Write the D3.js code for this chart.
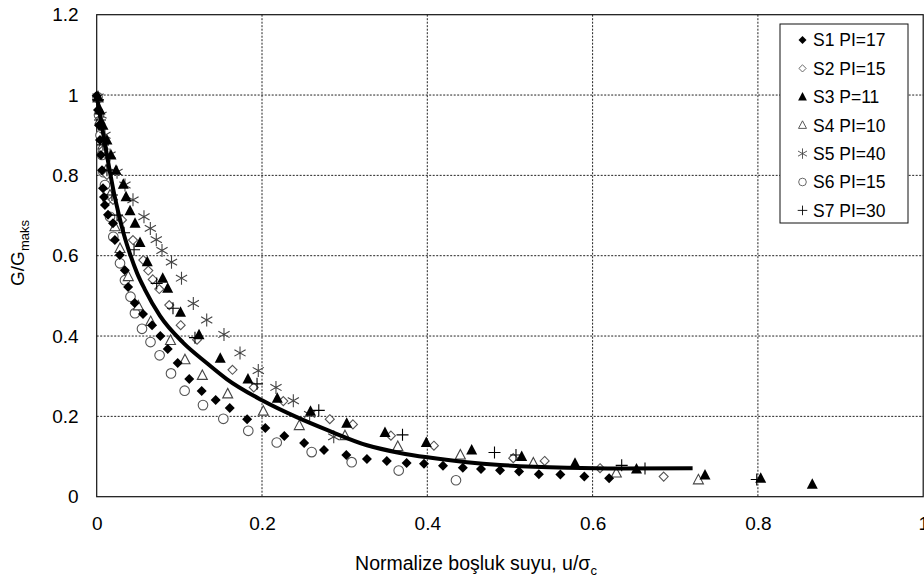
<!DOCTYPE html>
<html><head><meta charset="utf-8">
<script src="https://cdn.jsdelivr.net/npm/d3@7"></script>
<style>body{margin:0;background:#fff}svg{display:block;font-family:"Liberation Sans",Arial,sans-serif}</style>
</head><body><svg id="c" width="924" height="579"></svg>
<script>
const seriesNames = ["S1 PI=17","S2 PI=15","S3 P=11","S4 PI=10","S5 PI=40","S6 PI=15","S7 PI=30"];
const xTicks = [0,0.2,0.4,0.6,0.8,1];
const yTicks = [0,0.2,0.4,0.6,0.8,1,1.2];
const s1 = [[0,0.998],[0.0016,0.963],[0.0028,0.925],[0.004,0.888],[0.0052,0.851],[0.0064,0.813],[0.0076,0.768],[0.0088,0.746],[0.010,0.726],[0.0137,0.702],[0.0197,0.681],[0.022,0.639],[0.028,0.602],[0.034,0.564],[0.038,0.522],[0.046,0.482],[0.056,0.455],[0.067,0.427],[0.077,0.400],[0.086,0.368],[0.098,0.333],[0.112,0.293],[0.127,0.263],[0.144,0.241],[0.161,0.221],[0.182,0.193],[0.204,0.171],[0.227,0.151],[0.251,0.134],[0.275,0.116],[0.302,0.104],[0.327,0.094],[0.351,0.089],[0.375,0.084],[0.396,0.082],[0.419,0.077],[0.443,0.072],[0.465,0.069],[0.488,0.066],[0.511,0.063],[0.535,0.056],[0.561,0.055],[0.590,0.050],[0.620,0.046]];
const s2 = [[0.0016,0.988],[0.004,0.925],[0.0076,0.863],[0.0124,0.801],[0.0197,0.739],[0.0306,0.689],[0.0439,0.639],[0.0564,0.589],[0.0624,0.563],[0.0678,0.541],[0.0757,0.517],[0.0878,0.477],[0.1016,0.427],[0.1214,0.391],[0.1643,0.316],[0.190,0.272],[0.2258,0.238],[0.282,0.193],[0.310,0.180],[0.356,0.152],[0.408,0.127],[0.504,0.096],[0.542,0.089],[0.609,0.071],[0.686,0.050]];
const s3 = [[0.0016,0.995],[0.004,0.963],[0.0076,0.925],[0.0124,0.888],[0.0173,0.851],[0.0234,0.813],[0.0322,0.778],[0.0355,0.747],[0.0403,0.712],[0.0464,0.681],[0.0524,0.633],[0.0612,0.585],[0.0799,0.544],[0.0859,0.519],[0.1014,0.459],[0.1238,0.403],[0.1495,0.345],[0.183,0.293],[0.2185,0.245],[0.2587,0.213],[0.3025,0.183],[0.3488,0.160],[0.3988,0.135],[0.4537,0.116],[0.5142,0.100],[0.5787,0.083],[0.6531,0.069],[0.736,0.054],[0.8034,0.046],[0.8658,0.031]];
const s4 = [[0.0016,0.993],[0.004,0.938],[0.0076,0.876],[0.0113,0.813],[0.0161,0.751],[0.0221,0.672],[0.0282,0.618],[0.0382,0.548],[0.0503,0.475],[0.0653,0.436],[0.0893,0.389],[0.1068,0.341],[0.1278,0.302],[0.1585,0.256],[0.2016,0.213],[0.2451,0.177],[0.3004,0.152],[0.3643,0.125],[0.440,0.104],[0.5283,0.084],[0.6287,0.059],[0.728,0.042]];
const s5 = [[0.0016,0.995],[0.0052,0.950],[0.010,0.900],[0.0161,0.851],[0.0246,0.808],[0.0342,0.776],[0.0439,0.739],[0.0572,0.697],[0.0649,0.668],[0.0721,0.640],[0.079,0.613],[0.0905,0.584],[0.1026,0.544],[0.1169,0.481],[0.1331,0.440],[0.154,0.404],[0.1734,0.358],[0.1955,0.314],[0.2169,0.272],[0.2379,0.239],[0.2576,0.205],[0.2868,0.149]];
const s6 = [[0.001,0.995],[0.0028,0.950],[0.0046,0.900],[0.0064,0.851],[0.0082,0.808],[0.010,0.776],[0.0125,0.741],[0.0161,0.697],[0.0201,0.647],[0.0282,0.581],[0.0342,0.539],[0.0409,0.498],[0.0463,0.457],[0.0548,0.418],[0.0651,0.385],[0.0761,0.352],[0.0899,0.307],[0.1064,0.264],[0.1286,0.228],[0.1532,0.194],[0.1834,0.164],[0.2178,0.135],[0.2601,0.111],[0.3085,0.086],[0.3654,0.065],[0.4347,0.041]];
const s7 = [[0.0016,0.988],[0.004,0.938],[0.0076,0.876],[0.0124,0.813],[0.0185,0.751],[0.0246,0.701],[0.0331,0.657],[0.0452,0.615],[0.0726,0.531],[0.0923,0.469],[0.1189,0.396],[0.194,0.281],[0.2687,0.215],[0.370,0.154],[0.4813,0.110],[0.5073,0.104],[0.6352,0.078],[0.6634,0.070],[0.7986,0.043]];
const fitCurve = [[0,1],[0.004,0.95],[0.009,0.89],[0.015,0.82],[0.021,0.755],[0.027,0.70],[0.033,0.652],[0.041,0.60],[0.049,0.556],[0.058,0.517],[0.0766,0.45],[0.1048,0.383],[0.1331,0.333],[0.1573,0.293],[0.2,0.24],[0.242,0.198],[0.28,0.165],[0.327,0.128],[0.367,0.109],[0.4,0.098],[0.448,0.086],[0.488,0.079],[0.569,0.072],[0.633,0.07],[0.721,0.071]];

const allSeries = [s1,s2,s3,s4,s5,s6,s7];
const svg = d3.select("#c");
const L=96.7, R=923.2, T=14.7, B=496.7;
const x = d3.scaleLinear().domain([0,1]).range([L,R]);
const y = d3.scaleLinear().domain([0,1.2]).range([B,T]);

// gridlines
const g = svg.append("g");
g.selectAll(".gx").data(xTicks.filter(d=>d>0&&d<1)).join("line")
  .attr("x1",d=>x(d)).attr("x2",d=>x(d)).attr("y1",T).attr("y2",B)
  .attr("stroke","#222").attr("stroke-width",1).attr("stroke-dasharray","2,1.5");
g.selectAll(".gy").data(yTicks.filter(d=>d>0&&d<1.2)).join("line")
  .attr("y1",d=>y(d)).attr("y2",d=>y(d)).attr("x1",L).attr("x2",R)
  .attr("stroke","#222").attr("stroke-width",1).attr("stroke-dasharray","2,1.5");
svg.append("rect").attr("x",L).attr("y",T).attr("width",R-L).attr("height",B-T)
  .attr("fill","none").attr("stroke","#111").attr("stroke-width",1.2);

// axes (labels only)
const xAxis = d3.axisBottom(x).tickValues(xTicks).tickFormat(d=>d3.format("")(d)).tickSize(0).tickPadding(20);
const xa = svg.append("g").attr("transform",`translate(0,${B})`).call(xAxis);
xa.select(".domain").remove();
xa.selectAll("text").attr("font-size",19).attr("fill","#000").attr("font-family","Liberation Sans, Arial, sans-serif");
const yAxis = d3.axisLeft(y).tickValues(yTicks).tickFormat(d=>d3.format("")(d)).tickSize(0).tickPadding(18);
const ya = svg.append("g").attr("transform",`translate(${L},0)`).call(yAxis);
ya.select(".domain").remove();
ya.selectAll("text").attr("font-size",19).attr("fill","#000").attr("font-family","Liberation Sans, Arial, sans-serif");

// marker painters
function marker(sel, k){
  if(k===0){ sel.append("path").attr("d","M0,-5L5,0L0,5L-5,0Z").attr("fill","#000"); }
  else if(k===1){ sel.append("path").attr("d","M0,-4.5L4.5,0L0,4.5L-4.5,0Z").attr("fill","#fff").attr("stroke","#555").attr("stroke-width",1.1); }
  else if(k===2){ sel.append("path").attr("d","M0,-6L5.5,4.5L-5.5,4.5Z").attr("fill","#000"); }
  else if(k===3){ sel.append("path").attr("d","M0,-5.5L5,4L-5,4Z").attr("fill","#fff").attr("stroke","#444").attr("stroke-width",1.1); }
  else if(k===4){ sel.append("path").attr("d","M0,-6.5L0,6.5M-5.6,-3.2L5.6,3.2M-5.6,3.2L5.6,-3.2").attr("fill","none").attr("stroke","#444").attr("stroke-width",1.1); }
  else if(k===5){ sel.append("circle").attr("r",4.8).attr("fill","#fff").attr("stroke","#555").attr("stroke-width",1.1); }
  else { sel.append("path").attr("d","M0,-6L0,6M-6,0L6,0").attr("fill","none").attr("stroke","#000").attr("stroke-width",1.1); }
}
const drawOrder=[5,3,1,4,6,2,0];
drawOrder.forEach(k=>{
  svg.append("g").selectAll("g").data(allSeries[k]).join("g")
    .attr("transform",d=>`translate(${x(d[0])},${y(d[1])})`)
    .each(function(){ marker(d3.select(this),k); });
});

// fit curve
svg.append("path").datum(fitCurve)
  .attr("d",d3.line().x(d=>x(d[0])).y(d=>y(d[1])).curve(d3.curveMonotoneX))
  .attr("fill","none").attr("stroke","#000").attr("stroke-width",4).attr("stroke-linecap","butt");

// legend
const lg = svg.append("g");
lg.append("rect").attr("x",780).attr("y",24).attr("width",128).attr("height",199).attr("fill","#fff").attr("stroke","#111").attr("stroke-width",1);
seriesNames.forEach((n,i)=>{
  const yy = 40 + i*28.4;
  const m = lg.append("g").attr("transform",`translate(802.5,${yy}) scale(0.8)`);
  marker(m,i);
  lg.append("text").attr("x",813).attr("y",yy).attr("dy","0.36em").attr("font-size",17.5).attr("fill","#000").text(n);
});

// titles
const xt = svg.append("text").attr("x",476).attr("y",570).attr("text-anchor","middle").attr("font-size",19.5).attr("fill","#000");
xt.append("tspan").text("Normalize boşluk suyu, u/σ");
xt.append("tspan").attr("font-size",13).attr("dy",5).text("c");
const yt = svg.append("text").attr("transform","translate(24,253) rotate(-90)").attr("text-anchor","middle").attr("font-size",19).attr("fill","#000");
yt.append("tspan").text("G/G");
yt.append("tspan").attr("font-size",13).attr("dy",5).text("maks");
</script></body></html>
